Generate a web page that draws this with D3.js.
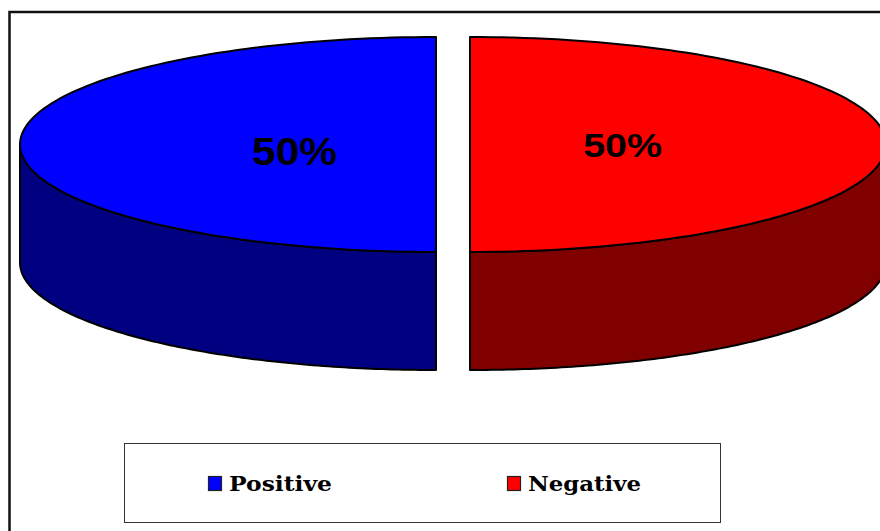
<!DOCTYPE html>
<html>
<head>
<meta charset="utf-8">
<script src="https://cdn.jsdelivr.net/npm/d3@7"></script>
<style>
  html, body { margin: 0; padding: 0; background: #fff; }
  svg { display: block; }
</style>
</head>
<body>
<div id="chart"></div>
<script>
// data
const categories = ["Positive", "Negative"];
const values = [50, 50];
const labels = ["50%", "50%"];

const WIDTH = 880, HEIGHT = 531;
const CX = 453, CY = 144.5;      // pie centre (top face)
const RX = 416, RY = 107.5;      // ellipse radii of top face
const DEPTH = 118;               // thickness of the 3d pie
const EXPLODE = 17;

const topColor = d3.scaleOrdinal().domain(categories).range(["#0000ff", "#ff0000"]);
const sideColor = d3.scaleOrdinal().domain(categories).range(["#000080", "#800000"]);
// label placement / size per slice, as Excel drew them
const labelStyle = {
    Positive: {size: 38, len: 85, r: 0.34, dy: 7},
    Negative: {size: 34, len: 79, r: 0.367, dy: 0}
};

const svg = d3.select("#chart")
    .append("svg")
        .attr("width", WIDTH)
        .attr("height", HEIGHT);

// chart area frame (runs off the right and bottom)
svg.append("rect")
    .attr("x", 9.5)
    .attr("y", 12)
    .attr("width", 900)
    .attr("height", 560)
    .attr("fill", "none")
    .attr("stroke", "#111")
    .attr("stroke-width", 2.5);

// Positive occupies the left half, Negative the right half
const pie = d3.pie().sort(null).startAngle(Math.PI).endAngle(3 * Math.PI);
const arcs = pie(values).map((d, i) => {
    const mid = (d.startAngle + d.endAngle) / 2;
    return {
        ...d,
        name: categories[i],
        label: labels[i],
        cx: CX + EXPLODE * Math.sin(mid),
        cy: CY - EXPLODE * Math.cos(mid) * RY / RX,
        mid
    };
});

const pt = (a, c, dz = 0) => [c.cx + RX * Math.sin(a), c.cy - RY * Math.cos(a) + dz];
const line = d3.line();
const N = 120;

function arcPoints(a0, a1, c, dz) {
    return d3.range(N + 1).map(k => pt(a0 + (a1 - a0) * k / N, c, dz));
}

// visible front wall: angles between PI/2 and 3PI/2 (mod 2PI)
function wallRange(d) {
    const norm = a => ((a % (2 * Math.PI)) + 2 * Math.PI) % (2 * Math.PI);
    let s = norm(d.startAngle);
    let e = s + (d.endAngle - d.startAngle);
    const lo = Math.max(s, Math.PI / 2), hi = Math.min(e, 3 * Math.PI / 2);
    return hi > lo ? [lo, hi] : null;
}

const slices = svg.append("g").selectAll("g")
    .data(arcs)
    .join("g");

// side walls
slices.each(function(d) {
    const r = wallRange(d);
    if (!r) return;
    const top = arcPoints(r[0], r[1], d, 0);
    const bottom = arcPoints(r[1], r[0], d, DEPTH);
    d3.select(this).append("path")
        .attr("d", line(top.concat(bottom)) + "Z")
        .attr("fill", sideColor(d.name))
        .attr("stroke", "#000")
        .attr("stroke-width", 2)
        .attr("stroke-linejoin", "round");
});

// top faces
slices.append("path")
    .attr("d", d => line([[d.cx, d.cy]].concat(arcPoints(d.startAngle, d.endAngle, d, 0))) + "Z")
    .attr("fill", d => topColor(d.name))
    .attr("stroke", "#000")
    .attr("stroke-width", 2)
    .attr("stroke-linejoin", "round");

// percentage labels
slices.append("text")
    .attr("x", d => d.cx + RX * labelStyle[d.name].r * Math.sin(d.mid))
    .attr("y", d => d.cy + labelStyle[d.name].dy + labelStyle[d.name].size * 0.36)
    .attr("text-anchor", "middle")
    .attr("font-family", "'Liberation Sans', Arial, sans-serif")
    .attr("font-weight", "bold")
    .attr("font-size", d => labelStyle[d.name].size)
    .attr("textLength", d => labelStyle[d.name].len)
    .attr("lengthAdjust", "spacingAndGlyphs")
    .attr("fill", "#000")
    .text(d => d.label);

// legend
const legend = svg.append("g");
legend.append("rect")
    .attr("x", 124.5)
    .attr("y", 443.5)
    .attr("width", 596)
    .attr("height", 79)
    .attr("fill", "#fff")
    .attr("stroke", "#333")
    .attr("stroke-width", 1);

const lx = d3.scalePoint().domain(categories).range([208, 507]);
const textLen = {Positive: 103, Negative: 113};
const items = legend.selectAll("g.item")
    .data(categories)
    .join("g")
        .attr("class", "item")
        .attr("transform", d => `translate(${lx(d)}, 476)`);
items.append("rect")
    .attr("x", 0.5)
    .attr("y", 0.5)
    .attr("width", 13)
    .attr("height", 14)
    .attr("fill", d => topColor(d))
    .attr("stroke", "#222")
    .attr("stroke-width", 1.2);
items.append("text")
    .attr("x", 21)
    .attr("y", 15)
    .attr("font-family", "'DejaVu Serif', serif")
    .attr("font-weight", "bold")
    .attr("font-size", 21)
    .attr("textLength", d => textLen[d])
    .attr("lengthAdjust", "spacingAndGlyphs")
    .attr("fill", "#000")
    .text(d => d);
</script>
</body>
</html>
